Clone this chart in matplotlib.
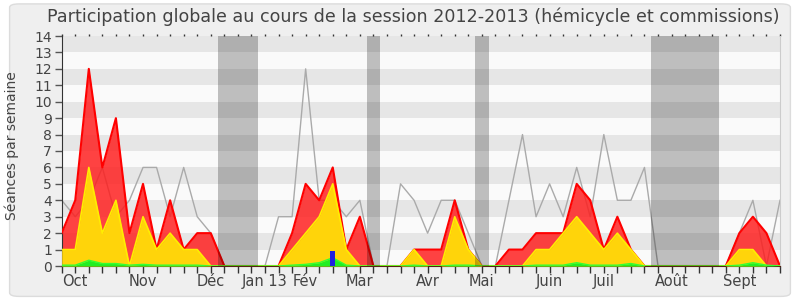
import matplotlib
matplotlib.use("Agg")
import matplotlib.pyplot as plt
from matplotlib.patches import FancyBboxPatch
import numpy as np

title = "Participation globale au cours de la session 2012-2013 (hémicycle et commissions)"
ylabel = "Séances par semaine"

weeks = list(range(54))
# total presences (top of red area)
total = [2, 4, 12, 6, 9, 2, 5, 1, 4, 1, 2, 2, 0, 0, 0, 0, 0, 2, 5, 4, 6, 1, 3, 0, 0, 0, 1, 1, 1, 4,
         1, 0, 0, 1, 1, 2, 2, 2, 5, 4, 1, 3, 1, 0, 0, 0, 0, 0, 0, 0, 2, 3, 2, 0]
# yellow area
yellow = [1, 1, 6, 2, 4, 0, 3, 1, 2, 1, 1, 0, 0, 0, 0, 0, 0, 1, 2, 3, 5, 1, 0, 0, 0, 0, 1, 0, 0, 3,
          1, 0, 0, 0, 0, 1, 1, 2, 3, 2, 1, 2, 1, 0, 0, 0, 0, 0, 0, 0, 1, 1, 0, 0]
# green area
green = [0.05, 0.05, 0.35, 0.15, 0.15, 0.05, 0.1, 0.05, 0.05, 0.05, 0.05, 0, 0, 0, 0, 0, 0, 0.05, 0.1, 0.2,
         0.5, 0.05, 0, 0, 0, 0, 0.05, 0, 0, 0.05, 0.05, 0, 0, 0, 0, 0.05, 0.05, 0.05, 0.2, 0.05,
         0.05, 0.05, 0.15, 0, 0, 0, 0, 0, 0, 0, 0.05, 0.2, 0.05, 0]
# gray line (median)
median = [4, 3, 4, 6, 3, 4, 6, 6, 3, 6, 3, 2, 0, 0, 0, 0, 3, 3, 12, 4, 4, 3, 4, 0, 0, 5, 4, 2, 4, 4,
          2, 0, 0, 4, 8, 3, 5, 3, 6, 3, 8, 4, 4, 6, 0, 0, 0, 0, 0, 0, 2, 4, 0, 4]
# blue bars
blue_weeks = [20]
blue_vals = [0.9]
# vacation periods (first week, last week)
vacations = [(12, 14), (23, 23), (31, 31), (44, 48)]
month_labels = ["Oct", "Nov", "Déc", "Jan 13", "Fév", "Mar", "Avr", "Mai", "Juin", "Juil", "Août", "Sept"]
month_weeks = [1, 6, 11, 15, 18, 22, 27, 31, 36, 40, 45, 50]

plt.rcParams['font.family'] = ['DejaVu Sans']
fig = plt.figure(figsize=(8, 3), dpi=100, facecolor='white')
bg = FancyBboxPatch((0.012, 0.012), 0.976, 0.975, boxstyle="round,pad=0,rounding_size=0.012",
                    transform=fig.transFigure, facecolor='#efefef', edgecolor='#dcdcdc',
                    linewidth=1, zorder=-10)
fig.patches.append(bg)

ax = fig.add_axes([61.7 / 800, 34 / 300, (780 - 61.7) / 800, 230 / 300])
ax.set_facecolor('#fafafa')
for k in range(1, 14, 2):
    ax.axhspan(k, k + 1, color='#e6e6e6', zorder=0, lw=0)

x = np.array(weeks)
ax.plot(x, median, color='#aaaaaa', lw=1, zorder=1)
ax.fill_between(x, 0, total, color='#ff1a1a', alpha=0.82, lw=0, zorder=2)
ax.plot(x, total, color='#ff0000', lw=1.5, zorder=3)
ax.fill_between(x, 0, yellow, color='#ffd40a', lw=0, zorder=4)
ax.plot(x, yellow, color='#ffee00', lw=1.2, zorder=5)
ax.fill_between(x, 0, green, color='#22ee22', lw=0, zorder=6)
ax.plot(x, green, color='#33ff33', lw=1, zorder=6)
ax.bar(blue_weeks, blue_vals, width=0.37, color='#2020dd', zorder=7)
for a, b in vacations:
    ax.axvspan(a - 0.5, b + 0.5, color='black', alpha=0.24, lw=0, zorder=8)

ax.set_xlim(0, 53)
ax.set_ylim(0, 14)
ax.set_yticks(range(15))
ax.set_xticks(weeks)
labels = [''] * len(weeks)
for w, m in zip(month_weeks, month_labels):
    labels[w] = m
ax.set_xticklabels(labels)
ax.tick_params(axis='x', direction='out', length=5, width=1, color='#333333',
               labelsize=10.5, labelcolor='#444444', pad=1, top=True)
ax.tick_params(axis='y', direction='out', length=5, width=1, color='#555555',
               labelsize=10, labelcolor='#444444', pad=2)
for t in ax.xaxis.get_major_ticks():
    t.tick2line.set_markersize(1.2)
ax.spines['top'].set_visible(False)
ax.spines['right'].set_color('#cccccc')
ax.spines['left'].set_color('#333333')
ax.spines['bottom'].set_color('#552211')
ax.set_ylabel(ylabel, fontsize=10, color='#444444', labelpad=6)
ax.yaxis.set_label_coords(-0.059, 0.525)
fig.text(0.516, 0.945, title, ha='center', va='center', fontsize=12.6, color='#444444')
fig.savefig('out.png', dpi=100, facecolor='white')
